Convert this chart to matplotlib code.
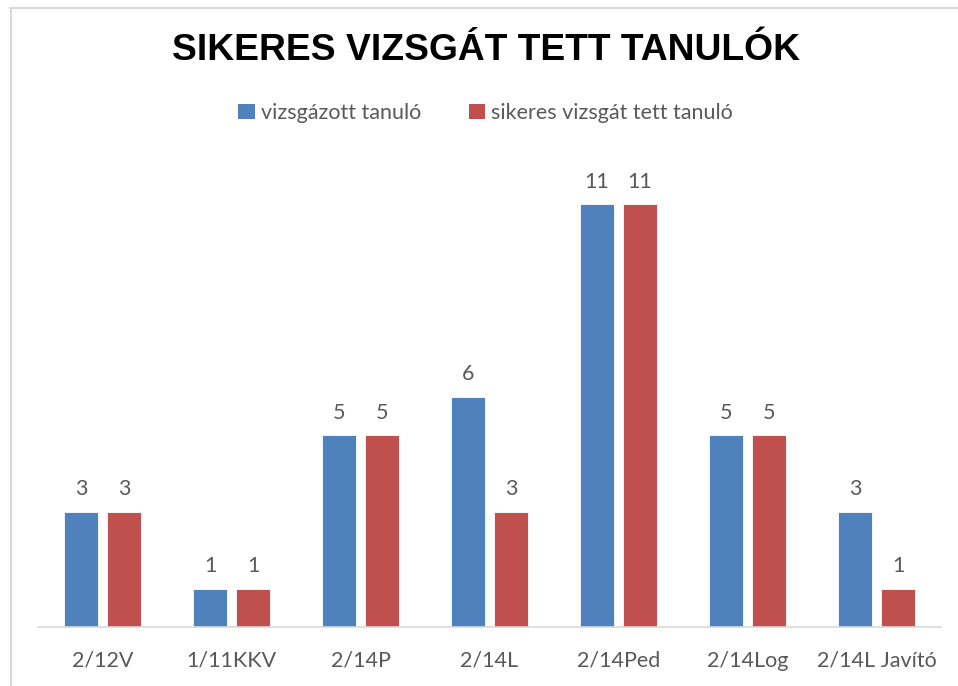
import numpy as np
import matplotlib.pyplot as plt
from matplotlib.patches import Patch
from matplotlib.lines import Line2D

categories = ['2/12V', '1/11KKV', '2/14P', '2/14L', '2/14Ped', '2/14Log', '2/14L Javító']
vizsgazott = [3, 1, 5, 6, 11, 5, 3]
sikeres = [3, 1, 5, 3, 11, 5, 1]
series_names = ['vizsgázott tanuló', 'sikeres vizsgát tett tanuló']

blue = '#4F81BD'
red = '#C0504D'
gray = '#595959'

W, H = 958, 686
fig = plt.figure(figsize=(W/100, H/100), dpi=100)
ax = fig.add_axes([38/W, 59/H, 903/W, 461/H])

x = np.arange(len(categories))
w = 0.27
off = 0.1667
b1 = ax.bar(x - off, vizsgazott, w, color=blue, edgecolor='white', linewidth=0.6)
b2 = ax.bar(x + off, sikeres, w, color=red, edgecolor='white', linewidth=0.6)

for bars in (b1, b2):
    for r in bars:
        ax.text(r.get_x() + r.get_width()/2, r.get_height() + 0.32, str(int(r.get_height())),
                ha='center', va='bottom', fontsize=15.5, color=gray, family='Lato')

ax.set_xlim(-0.5, len(categories) - 0.5)
ax.set_ylim(0, 12)
ax.set_yticks([])
ax.set_xticks(x)
ax.set_xticklabels(categories, fontsize=15.5, color=gray, family='Lato')
ax.tick_params(axis='x', length=0, pad=17)
for s in ['top', 'right', 'left']:
    ax.spines[s].set_visible(False)
ax.spines['bottom'].set_color('#D9D9D9')
ax.spines['bottom'].set_linewidth(1.2)

fig.text(0.507, 1 - 50/H, 'SIKERES VIZSGÁT TETT TANULÓK', ha='center', va='center',
         fontsize=26.8, fontweight='bold', family='Liberation Sans', color='black')

handles = [Patch(facecolor=blue), Patch(facecolor=red)]
fig.legend(handles, series_names, loc='center', bbox_to_anchor=(0.507, 1 - 113/H), ncol=2,
           frameon=False, prop={'family': 'Lato', 'size': 15.5}, labelcolor=gray,
           handlelength=0.75, handleheight=0.75, handletextpad=0.3, columnspacing=2.2)

# chart border
fig.add_artist(Line2D([10/W, 1], [1 - 7.5/H, 1 - 7.5/H], color='#D9D9D9', lw=1.5))
fig.add_artist(Line2D([10.5/W, 10.5/W], [0, 1 - 7.5/H], color='#D9D9D9', lw=1.5))

fig.savefig('out.png', dpi=100)
